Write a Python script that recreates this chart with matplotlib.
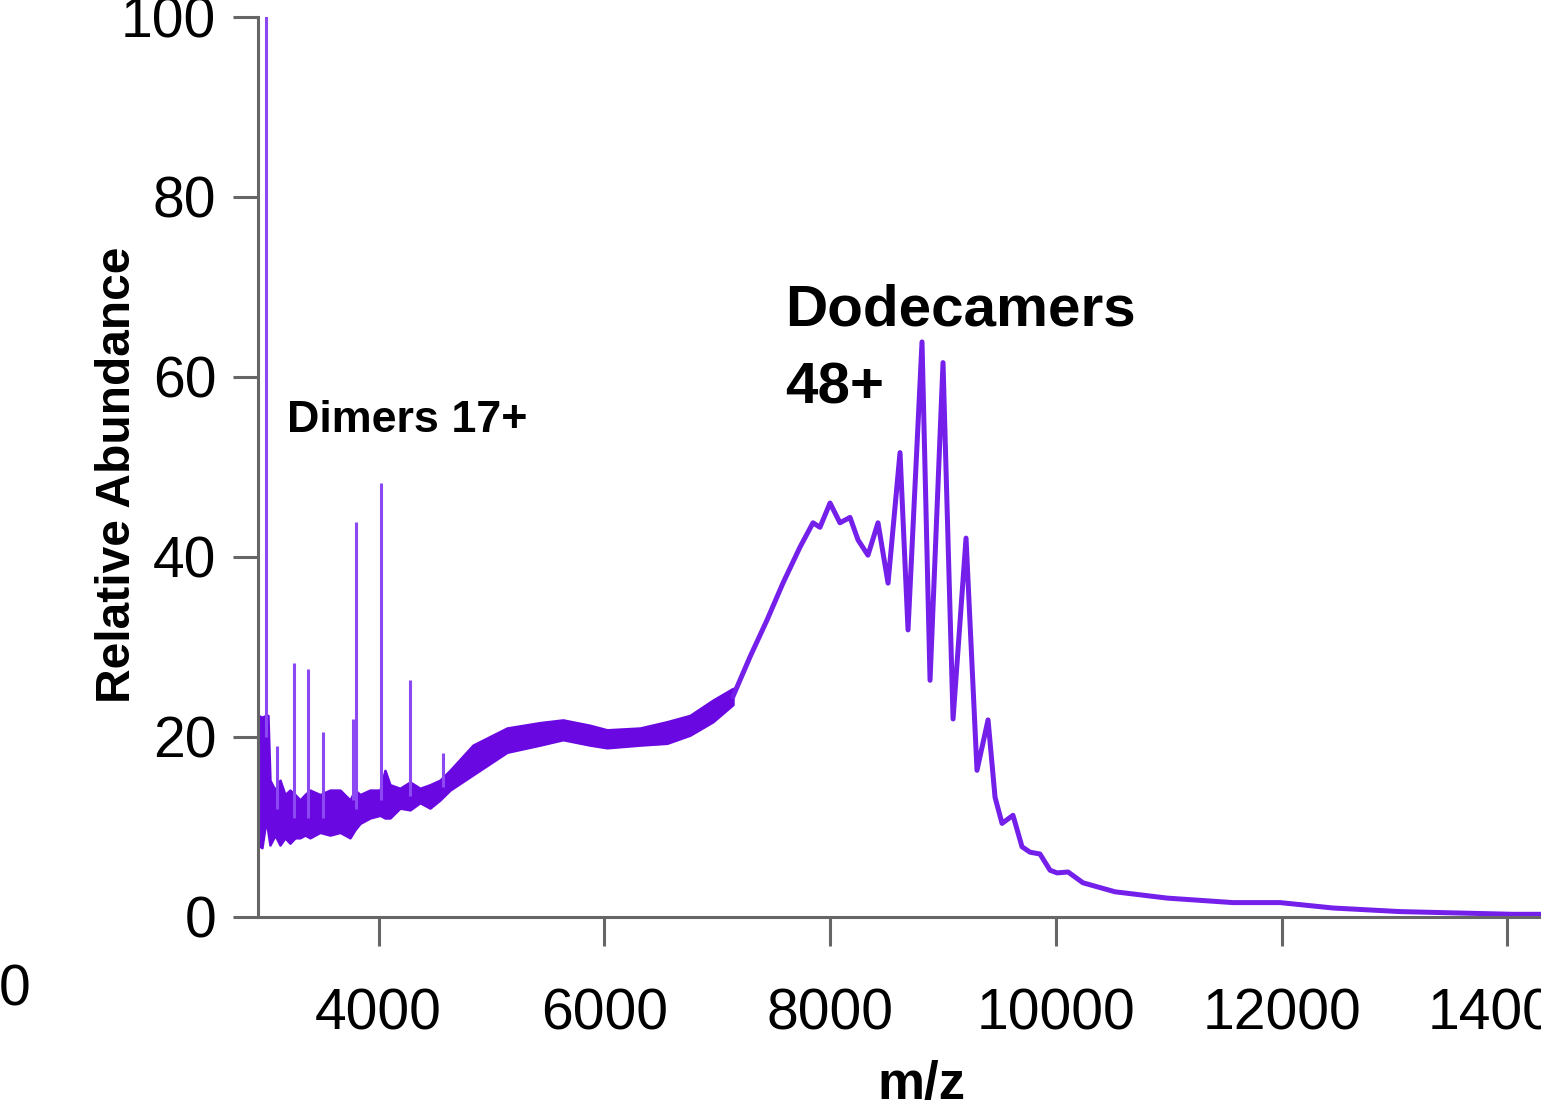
import matplotlib.pyplot as plt

plt.rcParams['font.family'] = ['Liberation Sans', 'DejaVu Sans']

# noisy low-m/z region: lower / upper edge of the band
band_mz = [2931, 2966, 3002, 3019, 3037, 3082, 3126, 3170, 3214, 3259, 3303, 3347,
           3392, 3480, 3569, 3658, 3746, 3790, 3835, 3923, 4012, 4056, 4100, 4189,
           4278, 4366, 4455, 4543, 4632, 4836, 5137, 5429, 5633, 5872, 6023, 6315,
           6555, 6758, 6962, 7139]
band_low = [8.0, 7.7, 10.8, 9.5, 8.0, 9.1, 8.0, 8.8, 8.2, 8.8, 8.8, 9.1,
            8.8, 9.4, 9.1, 9.4, 8.8, 9.7, 10.4, 11.0, 11.3, 11.0, 11.0, 12.1,
            11.9, 12.7, 12.1, 13.0, 14.1, 15.8, 18.3, 19.1, 19.7, 19.1, 18.8, 19.1,
            19.3, 20.2, 21.7, 23.6]
band_high = [22.4, 22.2, 22.4, 22.4, 15.2, 14.1, 15.2, 13.6, 14.1, 13.6, 13.0, 13.6,
             14.1, 13.6, 14.1, 14.1, 13.0, 14.1, 13.6, 14.1, 14.1, 16.3, 14.7, 14.3,
             15.0, 14.3, 14.7, 15.2, 16.3, 19.1, 21.0, 21.6, 21.9, 21.3, 20.8, 21.0,
             21.7, 22.4, 24.1, 25.4]

# narrow spikes (position, base, top)
spike_mz = [3002, 3099, 3250, 3374, 3507, 3773, 3799, 4021, 4278, 4570]
spike_base = [20.0, 12.0, 11.0, 11.0, 11.0, 13.0, 12.0, 13.0, 13.5, 14.5]
spike_top = [105.0, 19.0, 28.2, 27.6, 20.6, 22.0, 43.9, 48.2, 26.3, 18.2]

# main envelope and dodecamer charge states
trace_mz = [7139, 7290, 7441, 7582, 7733, 7848, 7910, 7999, 8087, 8176, 8247, 8335,
            8424, 8513, 8619, 8690, 8814, 8885, 9000, 9089, 9204, 9301, 9399, 9461,
            9523, 9620, 9700, 9771, 9859, 9948, 10010, 10108, 10240, 10524, 10985,
            11569, 11986, 12455, 13049, 14050, 14298]
trace_ab = [24.5, 28.9, 33.0, 37.1, 41.1, 43.8, 43.3, 46.0, 43.8, 44.4, 41.9, 40.2,
            43.8, 37.1, 51.6, 31.9, 63.9, 26.3, 61.6, 22.0, 42.1, 16.3, 21.9, 13.3,
            10.4, 11.3, 7.8, 7.2, 7.0, 5.2, 4.9, 5.0, 3.8, 2.8, 2.1,
            1.6, 1.6, 1.0, 0.6, 0.3, 0.3]

xticks = [4000, 6000, 8000, 10000, 12000, 14000]
yticks = [0, 20, 40, 60, 80, 100]

fig = plt.figure(figsize=(15.41, 11.14), dpi=100)
ax = fig.add_axes([258/1541, 1 - 917/1114, 1 - 258/1541, 900/1114])

dark = '#6a08e2'
light = '#8c48f2'
ax.fill_between(band_mz, band_low, band_high, color=dark, edgecolor=dark, lw=1.8)
ax.vlines(spike_mz, spike_base, spike_top, color=light, lw=2.2)
ax.plot(trace_mz, trace_ab, color='#7420ea', lw=3.6,
        solid_joinstyle='round', solid_capstyle='round')

ax.set_xlim(2931, 14298)
ax.set_ylim(0, 100)
ax.set_xticks(xticks)
ax.set_yticks(yticks)
ax.tick_params(axis='both', labelsize=41, width=2.2, color='#666666', direction='out')
ax.tick_params(axis='x', length=21, pad=30)
ax.tick_params(axis='y', length=18, pad=12)
for s in ['top', 'right']:
    ax.spines[s].set_visible(False)
for s in ['left', 'bottom']:
    ax.spines[s].set_color('#666666')
    ax.spines[s].set_linewidth(2.2)

fig.text(117/1541, 1 - 475/1114, 'Relative Abundance', rotation=90, fontsize=34.5,
         fontweight='bold', ha='center', va='center')
fig.text(921/1541, 1 - 1085/1114, 'm/z', fontsize=38, fontweight='bold',
         ha='center', va='center')
fig.text(15/1541, 1 - 990/1114, '0', fontsize=41, ha='center', va='center')

ax.text(3188, 53.9, 'Dimers 17+', fontsize=32.3, fontweight='bold', va='baseline')
ax.text(7600, 65.7, 'Dodecamers', fontsize=42, fontweight='bold', va='baseline')
ax.text(7600, 57.1, '48+', fontsize=42, fontweight='bold', va='baseline')

fig.savefig('out.png', dpi=100)
